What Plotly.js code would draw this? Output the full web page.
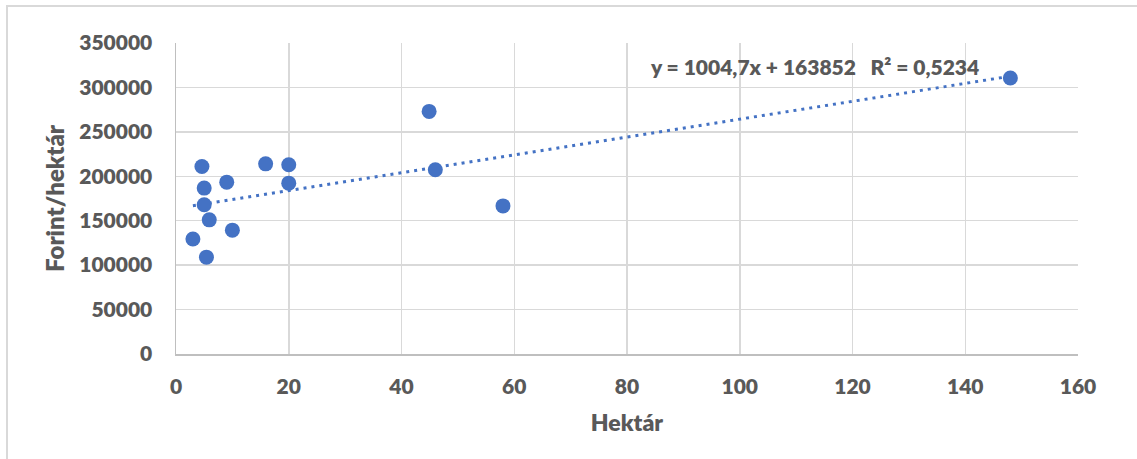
<!DOCTYPE html>
<html>
<head>
<meta charset="utf-8">
<script src="https://cdn.plot.ly/plotly-3.0.1.min.js"></script>
<style>
  html, body { margin: 0; padding: 0; background: #ffffff; }
  #wrap { position: relative; width: 1137px; height: 459px; overflow: hidden; }
  #chart { position: absolute; left: 0; top: 0; width: 1137px; height: 459px; }
  #frame { position: absolute; left: 6px; top: 5px; width: 1131px; height: 454px;
           border-left: 2px solid #d9d9d9; border-top: 2px solid #d9d9d9;
           pointer-events: none; box-sizing: border-box; }
</style>
</head>
<body>
<div id="wrap">
  <div id="chart"></div>
  <div id="frame"></div>
</div>
<script>
// Land size (hectares) and price per hectare (HUF)
const hektar = [3, 4.6, 5, 5, 5.9, 5.4, 9, 10, 15.9, 20, 20, 44.9, 46, 58, 148];
const forintPerHektar = [129500, 211000, 186700, 167900, 151000, 109000, 193400, 139400,
                         214000, 212900, 192300, 273000, 207300, 166700, 310600];

// Linear trendline coefficients and fit quality
const slope = 1004.7;
const intercept = 163852;
const rSquared = 0.5234;

const xTicks = [0, 20, 40, 60, 80, 100, 120, 140, 160];
const yTicks = [0, 50000, 100000, 150000, 200000, 250000, 300000, 350000];

const textColor = '#595959';
const blue = '#4472c4';
const fontFamily = 'Lato, "Open Sans", sans-serif';

const huComma = v => String(v).replace('.', ',');

const xMin = Math.min(...hektar);
const xMax = Math.max(...hektar);
const trendX = [xMin, xMax];
const trendY = trendX.map(x => slope * x + intercept);

const points = {
  type: 'scatter', mode: 'markers', x: hektar, y: forintPerHektar,
  marker: { color: blue, size: 15 }, hoverinfo: 'x+y', showlegend: false
};
const trend = {
  type: 'scatter', mode: 'lines', x: trendX, y: trendY,
  line: { color: blue, width: 3, dash: '3px,5px' }, hoverinfo: 'skip', showlegend: false
};

const tickFont = { family: fontFamily, color: textColor, size: 21, weight: 800 };
const titleFont = { family: fontFamily, color: textColor, size: 24, weight: 800 };

const layout = {
  width: 1137, height: 459,
  margin: { l: 176, r: 59, t: 43, b: 105 },
  paper_bgcolor: '#ffffff', plot_bgcolor: '#ffffff',
  font: { family: fontFamily, color: textColor, size: 20, weight: 700 },
  xaxis: {
    range: [0, 160], tickvals: xTicks, ticktext: xTicks.map(String),
    showgrid: true, gridcolor: '#d9d9d9', gridwidth: 1.5,
    zeroline: false, showline: true, linecolor: '#bfbfbf', linewidth: 1.5,
    ticks: '', ticklabelstandoff: 13,
    tickfont: tickFont,
    title: { text: 'Hektár', standoff: 18, font: { ...titleFont, size: 23 } }
  },
  yaxis: {
    range: [0, 350000], tickvals: yTicks, ticktext: yTicks.map(String),
    showgrid: true, gridcolor: '#d9d9d9', gridwidth: 1.5,
    zeroline: false, showline: true, linecolor: '#bfbfbf', linewidth: 1.5,
    ticks: '', ticklabelstandoff: 18,
    tickfont: tickFont,
    title: { text: 'Forint/hektár', standoff: 8, font: titleFont }
  },
  annotations: [{
    xref: 'paper', yref: 'paper', x: 0.708, y: 0.926, xanchor: 'center', yanchor: 'middle',
    showarrow: false,
    text: 'y = ' + huComma(slope) + 'x + ' + intercept + '   R² = ' + huComma(rSquared),
    font: { family: fontFamily, color: textColor, size: 21, weight: 800 }
  }]
};

Plotly.newPlot('chart', [trend, points], layout, { displayModeBar: false, staticPlot: true });
</script>
</body>
</html>
